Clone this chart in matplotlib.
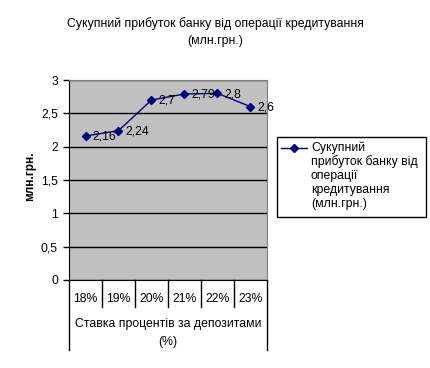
import matplotlib
matplotlib.use("Agg")
import matplotlib.pyplot as plt
from matplotlib.lines import Line2D
from matplotlib.patches import Rectangle

plt.rcParams["font.family"] = ["Liberation Sans", "DejaVu Sans"]

# data
categories = ["18%", "19%", "20%", "21%", "22%", "23%"]
profit = [2.16, 2.24, 2.7, 2.79, 2.8, 2.6]
value_labels = ["2,16", "2,24", "2,7", "2,79", "2,8", "2,6"]
y_ticks = [0, 0.5, 1, 1.5, 2, 2.5, 3]
y_tick_labels = ["0", "0,5", "1", "1,5", "2", "2,5", "3"]

title = "Сукупний прибуток банку від операції кредитування\n(млн.грн.)"
series_lines = ["Сукупний", "прибуток банку від", "операції", "кредитування", "(млн.грн.)"]
x_title = "Ставка процентів за депозитами\n(%)"
y_title = "млн.грн."

FS = 8.8
W, H = 431, 368
fig = plt.figure(figsize=(W / 100, H / 100), dpi=100)

# plot area in pixels
left, right, top, bottom = 69, 267, 80, 280
ax = fig.add_axes([left / W, 1 - bottom / H, (right - left) / W, (bottom - top) / H])
ax.set_facecolor("#c0c0c0")

x = list(range(len(categories)))
ax.plot(x, profit, color="#000080", lw=1, marker="D", ms=3.8, zorder=3)
for xi, yi, lab in zip(x, profit, value_labels):
    ax.annotate(lab, (xi, yi), xytext=(5, -0.5), textcoords="offset points",
                ha="left", va="center", fontsize=FS, zorder=4)

ax.set_xlim(-0.5, len(categories) - 0.5)
ax.set_ylim(0, 3)
ax.set_yticks(y_ticks)
ax.set_yticklabels(y_tick_labels, fontsize=FS)
ax.yaxis.grid(True, color="black", lw=1)
ax.set_axisbelow(True)
ax.tick_params(axis="y", direction="out", length=4, width=1, pad=4)
ax.set_xticks([])

for side in ["top", "right"]:
    ax.spines[side].set_color("#808080")
ax.spines["left"].set_color("black")
ax.spines["bottom"].set_color("black")

# category table below the axis
tr = ax.get_xaxis_transform()
for b in [i + 0.5 for i in range(len(categories) - 1)]:
    ax.plot([b, b], [0, -0.135], color="black", lw=1, transform=tr, clip_on=False)
for b in [-0.5, len(categories) - 0.5]:
    ax.plot([b, b], [0, -0.35], color="black", lw=1, transform=tr, clip_on=False)
for xi, c in zip(x, categories):
    ax.text(xi, -0.095, c, transform=tr, ha="center", va="center", fontsize=FS)
ax.text((len(categories) - 1) / 2, -0.264, x_title, transform=tr, ha="center",
        va="center", fontsize=FS, linespacing=1.6)

ax.set_ylabel(y_title, fontsize=8.5, fontweight="bold", va="center")
ax.yaxis.set_label_coords(-0.197, 0.52)

fig.text(215 / W, 1 - 32 / H, title, ha="center", va="center", fontsize=FS,
         linespacing=1.65)

# legend drawn by hand
lx0, ly0, lx1, ly1 = 277, 137, 426, 217
fig.patches.append(Rectangle((lx0 / W, 1 - ly1 / H), (lx1 - lx0) / W, (ly1 - ly0) / H,
                             transform=fig.transFigure, fill=False, ec="black", lw=1))
fig.lines.append(Line2D([281 / W, 307 / W], [1 - 148 / H, 1 - 148 / H],
                        transform=fig.transFigure, color="#000080", lw=1))
fig.lines.append(Line2D([294 / W], [1 - 148 / H], transform=fig.transFigure,
                        color="#000080", marker="D", ms=3.8))
for i, line in enumerate(series_lines):
    fig.text(311 / W, 1 - (151.5 + 14 * i) / H, line, ha="left", va="baseline",
             fontsize=FS)

fig.savefig("out.png", dpi=100)
